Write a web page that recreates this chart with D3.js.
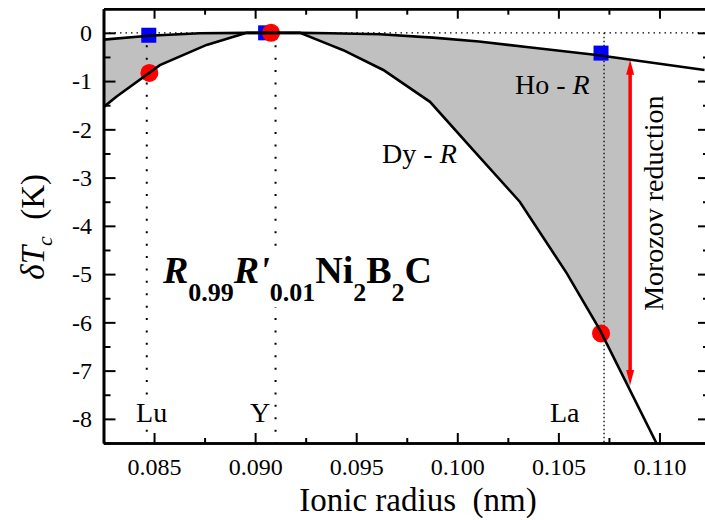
<!DOCTYPE html>
<html>
<head>
<meta charset="utf-8">
<script src="https://d3js.org/d3.v7.min.js"></script>
<style>
  body { margin: 0; background: #fff; }
  svg text { font-family: "Liberation Serif", "Times New Roman", serif; fill: #000; }
  .axis path, .axis line { stroke: #000; }
</style>
</head>
<body>
<div id="chart"></div>
<script>
// upper curve (Ho - R) and lower curve (Dy - R): ionic radius (nm) vs delta Tc (K)
var radiusHo = [0.0825, 0.08474, 0.08727, 0.08958, 0.09222, 0.0937, 0.09618, 0.0988, 0.10107, 0.10354, 0.1069, 0.11223];
var dTcHo    = [-0.14, -0.06, -0.01, 0.0, 0.0, -0.01, -0.03, -0.10, -0.18, -0.30, -0.46, -0.77];

var radiusDy = [0.0825, 0.08315, 0.08529, 0.0876, 0.08958, 0.09222, 0.0937, 0.09436, 0.09634, 0.09865, 0.10079, 0.10309, 0.10541, 0.10706, 0.10986];
var dTcDy    = [-1.54, -1.32, -0.67, -0.25, 0.0, 0.0, -0.25, -0.36, -0.77, -1.43, -2.43, -3.50, -4.98, -6.16, -8.51];

// elements
var elements  = ["Lu", "Y", "La"];
var rSquare   = [0.08474, 0.09052, 0.10711];
var dTcSquare = [-0.05, 0.0, -0.42];
var rCircle   = [0.08477, 0.09079, 0.10711];
var dTcCircle = [-0.83, 0.0, -6.23];
var rDrop     = [0.08464, 0.09101, 0.10726];

// Morozov arrow
var arrowR = 0.10855, arrowTop = -0.56, arrowBottom = -7.30;

var xMajor = [0.085, 0.090, 0.095, 0.100, 0.105, 0.110];
var xMinor = [0.0875, 0.0925, 0.0975, 0.1025, 0.1075];
var yMajor = [-8, -7, -6, -5, -4, -3, -2, -1, 0];
var yMinor = [-8.5, -7.5, -6.5, -5.5, -4.5, -3.5, -2.5, -1.5, -0.5];

var W = 705, H = 520;
var L = 103.5, R = 710, T = 8.7, B = 443;

var svg = d3.select("#chart").append("svg").attr("width", W).attr("height", H);

var x = d3.scaleLinear().domain([0.0825, 0.1125]).range([L, R]);
var y = d3.scaleLinear().domain([-8.5, 0.5]).range([B, T]);

svg.append("clipPath").attr("id", "clip")
  .append("rect").attr("x", L).attr("y", T).attr("width", R - L).attr("height", B - T);

var plot = svg.append("g").attr("clip-path", "url(#clip)");

function interp(xs, ys, v) {
  for (var i = 0; i < xs.length - 1; i++) {
    if (v >= xs[i] && v <= xs[i + 1]) {
      return ys[i] + (ys[i + 1] - ys[i]) * (v - xs[i]) / (xs[i + 1] - xs[i]);
    }
  }
  return ys[ys.length - 1];
}

// gray region between the curves, up to the arrow
var grid = radiusHo.concat(radiusDy).filter(function(v) { return v < arrowR; });
grid.push(arrowR);
grid = Array.from(new Set(grid)).sort(d3.ascending);
var band = grid.map(function(v) {
  return { r: v, top: interp(radiusHo, dTcHo, v), bot: interp(radiusDy, dTcDy, v) };
});
plot.append("path").datum(band)
  .attr("fill", "#c0c0c0")
  .attr("d", d3.area().x(function(d) { return x(d.r); })
    .y0(function(d) { return y(d.bot); }).y1(function(d) { return y(d.top); }));

// zero line
plot.append("line")
  .attr("x1", L).attr("x2", R).attr("y1", y(0)).attr("y2", y(0))
  .attr("stroke", "#000").attr("stroke-width", 1.3).attr("stroke-dasharray", "1.5,4");

// drop lines
elements.forEach(function(el, i) {
  var fine = el === "La";
  plot.append("line")
    .attr("x1", x(rDrop[i])).attr("x2", x(rDrop[i]))
    .attr("y1", y(0)).attr("y2", B)
    .attr("stroke", "#000")
    .attr("stroke-width", fine ? 1.3 : 2)
    .attr("stroke-dasharray", fine ? "1.5,2.5" : "2,10.4");
});

// markers
plot.selectAll("rect.sq").data(elements).enter().append("rect")
  .attr("class", "sq")
  .attr("x", function(d, i) { return x(rSquare[i]) - 7.5; })
  .attr("y", function(d, i) { return y(dTcSquare[i]) - 7.5; })
  .attr("width", 15).attr("height", 15)
  .attr("fill", "#0000ff");

plot.selectAll("circle.ci").data(elements).enter().append("circle")
  .attr("class", "ci")
  .attr("cx", function(d, i) { return x(rCircle[i]); })
  .attr("cy", function(d, i) { return y(dTcCircle[i]); })
  .attr("r", 9)
  .attr("fill", "#ff0000");

// curves
var line = d3.line().x(function(d) { return x(d[0]); }).y(function(d) { return y(d[1]); });
plot.append("path").datum(d3.zip(radiusHo, dTcHo))
  .attr("fill", "none").attr("stroke", "#000").attr("stroke-width", 2.6).attr("d", line);
plot.append("path").datum(d3.zip(radiusDy, dTcDy))
  .attr("fill", "none").attr("stroke", "#000").attr("stroke-width", 2.6).attr("d", line);

// arrow
var ax = x(arrowR), ay1 = y(arrowTop), ay2 = y(arrowBottom);
plot.append("line")
  .attr("x1", ax).attr("x2", ax).attr("y1", ay1 + 12).attr("y2", ay2 - 12)
  .attr("stroke", "#ff0000").attr("stroke-width", 3.5);
plot.append("path")
  .attr("fill", "#ff0000")
  .attr("d", "M" + ax + "," + ay1 + "L" + (ax - 4) + "," + (ay1 + 15) + "L" + (ax + 4) + "," + (ay1 + 15) + "Z" +
             "M" + ax + "," + ay2 + "L" + (ax - 4) + "," + (ay2 - 15) + "L" + (ax + 4) + "," + (ay2 - 15) + "Z");

// text labels
function whiteBack(sel, pad) {
  var node = sel.node(), b = node.getBBox();
  d3.select(node.parentNode).insert("rect", function() { return node; })
    .attr("x", b.x - pad).attr("y", b.y).attr("width", b.width + 2 * pad).attr("height", b.height)
    .attr("fill", "#fff");
}

var labels = svg.append("g");
var lu = labels.append("text").attr("x", x(0.08411)).attr("y", y(-8.06)).attr("font-size", 28).text("Lu");
labels.append("text").attr("x", x(0.08975)).attr("y", y(-8.06)).attr("font-size", 28).text("Y");
labels.append("text").attr("x", x(0.10458)).attr("y", y(-8.06)).attr("font-size", 28).text("La");

var ho = labels.append("text").attr("x", x(0.10285)).attr("y", y(-1.27)).attr("font-size", 28);
ho.append("tspan").text("Ho - ");
ho.append("tspan").attr("font-style", "italic").text("R");

var dy = labels.append("text").attr("x", x(0.09628)).attr("y", y(-2.70)).attr("font-size", 28);
dy.append("tspan").text("Dy - ");
dy.append("tspan").attr("font-style", "italic").text("R");

var f = labels.append("text").attr("x", x(0.08544)).attr("y", y(-5.19))
  .attr("font-weight", "bold").attr("font-size", 38);
var parts = [["R", 0, true], ["0.99", 18, false], ["R'", -18, true], ["0.01", 18, false],
             ["Ni", -18, false], ["2", 18, false], ["B", -18, false], ["2", 18, false], ["C", -18, false]];
parts.forEach(function(p) {
  var sub = p[1] > 0;
  f.append("tspan").attr("dy", p[1])
    .attr("font-size", sub ? 26 : 38)
    .attr("font-style", p[2] ? "italic" : "normal")
    .text(p[0]);
});

whiteBack(f, 2);
whiteBack(lu, 0);

svg.append("text")
  .attr("transform", "translate(" + 663 + "," + y(-3.53) + ") rotate(-90)")
  .attr("text-anchor", "middle").attr("font-size", 28)
  .text("Morozov reduction");

// axes
function styleAxis(g) {
  g.selectAll("path").attr("stroke-width", 2.6);
  g.selectAll("line").attr("stroke-width", 2);
  g.selectAll("text").attr("font-family", "Liberation Serif").attr("font-size", 24).attr("fill", "#000");
}

var fmt = d3.format(".3f");
svg.append("g").attr("class", "axis").attr("transform", "translate(0," + B + ")")
  .call(d3.axisBottom(x).tickValues(xMajor).tickSize(-10).tickSizeOuter(0).tickPadding(15).tickFormat(fmt))
  .call(styleAxis);
svg.append("g").attr("class", "axis").attr("transform", "translate(0," + B + ")")
  .call(d3.axisBottom(x).tickValues(xMinor).tickSize(-5).tickSizeOuter(0).tickFormat(""))
  .call(styleAxis);
svg.append("g").attr("class", "axis").attr("transform", "translate(0," + T + ")")
  .call(d3.axisTop(x).tickValues(xMajor).tickSize(-10).tickSizeOuter(0).tickFormat(""))
  .call(styleAxis);
svg.append("g").attr("class", "axis").attr("transform", "translate(0," + T + ")")
  .call(d3.axisTop(x).tickValues(xMinor).tickSize(-6).tickSizeOuter(0).tickFormat(""))
  .call(styleAxis);
svg.append("g").attr("class", "axis").attr("transform", "translate(" + L + ",0)")
  .call(d3.axisLeft(y).tickValues(yMajor).tickSize(-12).tickSizeOuter(0).tickPadding(11.5).tickFormat(d3.format("d")))
  .call(styleAxis);
svg.append("g").attr("class", "axis").attr("transform", "translate(" + L + ",0)")
  .call(d3.axisLeft(y).tickValues(yMinor).tickSize(-7).tickSizeOuter(0).tickFormat(""))
  .call(styleAxis);
svg.append("g").attr("class", "axis").attr("transform", "translate(" + R + ",0)")
  .call(d3.axisRight(y).tickValues(yMajor).tickSize(-12).tickSizeOuter(0).tickFormat(""))
  .call(styleAxis);
svg.append("g").attr("class", "axis").attr("transform", "translate(" + R + ",0)")
  .call(d3.axisRight(y).tickValues(yMinor).tickSize(-7).tickSizeOuter(0).tickFormat(""))
  .call(styleAxis);

// use hyphen minus like the original
svg.selectAll(".axis text").text(function() { return this.textContent.replace("\u2212", "-"); });

// axis titles
svg.append("text")
  .attr("x", 418).attr("y", 511)
  .attr("text-anchor", "middle").attr("font-size", 33)
  .style("white-space", "pre")
  .text("Ionic radius  (nm)");

var yl = svg.append("text")
  .attr("transform", "translate(44," + y(-4.02) + ") rotate(-90)")
  .attr("text-anchor", "middle").attr("font-size", 33);
yl.append("tspan").attr("font-style", "italic").text("\u03B4T");
yl.append("tspan").attr("font-style", "italic").attr("font-size", 22).attr("dy", 8).text("c");
yl.append("tspan").attr("dy", -8).style("white-space", "pre").text("  (K)");
</script>
</body>
</html>
